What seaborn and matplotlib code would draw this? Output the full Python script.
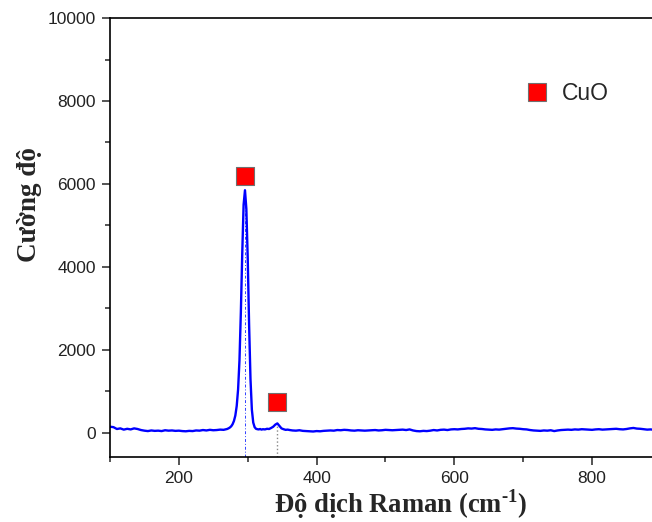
import pandas as pd
import seaborn as sns
import matplotlib.pyplot as plt
from matplotlib.ticker import MultipleLocator

# pho Raman cua mau CuO
raman_shift = [100, 105, 110, 115, 120, 125, 130, 135, 140, 145, 150, 155, 160, 165, 170, 175,
               180, 185, 190, 195, 200, 205, 210, 215, 220, 225, 230, 235, 240, 245, 250, 255,
               260, 265, 270,
               272, 274, 276, 278, 280, 282, 284, 286, 288, 290, 292, 294, 296, 298, 300, 302,
               304, 306, 308, 310, 312, 314, 316, 318, 320,
               322, 325, 328, 331, 334, 337, 340, 343, 346, 349, 352, 355, 358, 361, 365,
               370, 375, 380, 385, 390, 395, 400, 405, 410, 415, 420, 425, 430, 435, 440, 445,
               450, 455, 460, 465, 470, 475, 480, 485, 490, 495, 500, 505, 510, 515, 520, 525,
               530, 535, 540, 545, 550, 555, 560, 565, 570, 575, 580, 585, 590, 595, 600, 605,
               610, 615, 620, 625, 630, 635, 640, 645, 650, 655, 660, 665, 670, 675, 680, 685,
               690, 695, 700, 705, 710, 715, 720, 725, 730, 735, 740, 745, 750, 755, 760, 765,
               770, 775, 780, 785, 790, 795, 800, 805, 810, 815, 820, 825, 830, 835, 840, 845,
               850, 855, 860, 865, 870, 875, 880, 885, 890]
intensity = [150, 140, 95, 110, 80, 100, 85, 110, 95, 70, 55, 45, 60, 50, 55, 45,
             65, 55, 60, 50, 55, 45, 40, 50, 45, 60, 55, 70, 60, 75, 65, 70,
             80, 75, 95,
             110, 130, 160, 210, 290, 420, 650, 1050, 1750, 2900, 4300, 5500, 5850, 5400, 4200, 2600,
             1300, 560, 250, 140, 100, 90, 85, 95, 80,
             90, 85, 100, 95, 120, 150, 200, 230, 170, 110, 90, 75, 80, 70, 60,
             55, 65, 50, 45, 40, 35, 45, 40, 50, 55, 60, 55, 70, 65, 75, 70,
             60, 55, 65, 60, 55, 60, 65, 70, 60, 65, 75, 70, 65, 70, 75, 80,
             70, 85, 60, 45, 40, 50, 45, 55, 70, 60, 75, 80, 70, 85, 90, 85,
             95, 100, 110, 105, 115, 100, 95, 85, 80, 75, 85, 80, 90, 100, 110, 115,
             105, 100, 90, 85, 70, 60, 55, 50, 60, 55, 65, 45, 60, 70, 75, 80,
             75, 85, 80, 90, 85, 80, 75, 85, 90, 80, 85, 90, 95, 100, 90, 85,
             95, 110, 120, 105, 100, 90, 80, 85, 75]

# vi tri cac dinh CuO va do cao ky hieu
peak_pos = [296, 343]
peak_top = [5850, 230]
marker_y = [6200, 750]
phase_label = "CuO"

spec = pd.DataFrame({"shift": raman_shift, "intensity": intensity})
peaks = pd.DataFrame({"shift": peak_pos, "y": marker_y, "phase": phase_label})

sns.set_style("ticks")
plt.rcParams["font.family"] = ["Liberation Sans", "DejaVu Sans"]
plt.rcParams["mathtext.fontset"] = "custom"
plt.rcParams["mathtext.rm"] = "Liberation Serif:bold"
plt.rcParams["mathtext.bf"] = "Liberation Serif:bold"

fig, ax = plt.subplots(figsize=(6.52, 5.22), dpi=100)
fig.subplots_adjust(left=0.1687, right=1.0, bottom=0.1245, top=0.9655)

# duong cham tu dinh xuong truc
ax.vlines(peak_pos[0], -580, peak_top[0], colors="#3040ff", linestyles=(0, (3, 2, 1, 2)), linewidth=0.7)
ax.vlines(peak_pos[1], -580, peak_top[1], colors="#888888", linestyles=":", linewidth=1.0)

sns.lineplot(data=spec, x="shift", y="intensity", color="#0000ff", linewidth=1.7, ax=ax)
sns.scatterplot(data=peaks, x="shift", y="y", hue="phase", palette=["#ff0000"], marker="s",
                s=170, edgecolor="#707070", linewidth=0.8, ax=ax, zorder=5)

ax.set_xlim(100, 887)
ax.set_ylim(-580, 10000)
ax.xaxis.set_major_locator(MultipleLocator(200))
ax.xaxis.set_minor_locator(MultipleLocator(100))
ax.yaxis.set_major_locator(MultipleLocator(2000))
ax.yaxis.set_minor_locator(MultipleLocator(1000))
ax.tick_params(which="major", length=6, width=1.1, labelsize=12.5, labelcolor="#222222", pad=4)
ax.tick_params(which="minor", length=3.5, width=1.1)
for side in ["left", "bottom", "top"]:
    ax.spines[side].set_linewidth(1.2)
    ax.spines[side].set_color("black")
ax.spines["right"].set_visible(False)

ax.set_xlabel(r"Độ dịch Raman (cm$^{\text{-1}}$)", family="Liberation Serif",
              fontweight="bold", fontsize=19.2)
ax.xaxis.set_label_coords(0.537, -0.068)
ax.set_ylabel("Cường độ", family="Liberation Serif", fontweight="bold", fontsize=19.5)
ax.yaxis.set_label_coords(-0.1255, 0.574)

leg = ax.legend(loc="center left", bbox_to_anchor=(0.716, 0.827), frameon=False,
                fontsize=16.5, handletextpad=0.1, borderpad=0.2)

plt.savefig("out.png", dpi=100)
